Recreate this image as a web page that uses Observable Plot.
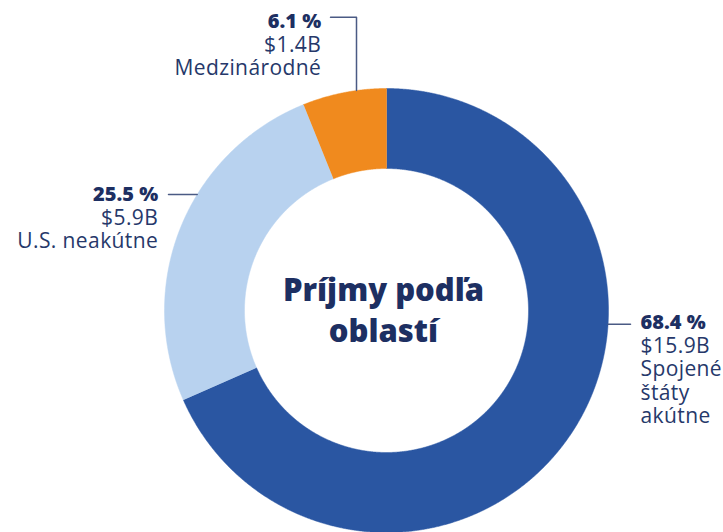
<!DOCTYPE html>
<html>
<head>
<meta charset="utf-8">
<script src="https://cdn.jsdelivr.net/npm/d3@7"></script>
<script src="https://cdn.jsdelivr.net/npm/@observablehq/plot@0.6"></script>
<style>
  html, body { margin: 0; padding: 0; background: #fff; }
  #chart { width: 723px; height: 532px; }
  #chart g[font-weight="400"] text { letter-spacing: 0.4px; }
</style>
</head>
<body>
<div id="chart"></div>
<script>
// ---- Data ----
const regions = ["Spojené štáty akútne", "U.S. neakútne", "Medzinárodné"];
const regionLabels = ["Spojené\nštáty\nakútne", "U.S. neakútne", "Medzinárodné"];
const shares = [68.4, 25.5, 6.1];          // percent
const revenue = [15.9, 5.9, 1.4];          // $B
const title = "Príjmy podľa\noblastí";

// ---- Styles / layout ----
const colors = ["#2a56a2", "#b8d2ef", "#f08a1e"];
const textColor = "#1d2f62";
const bodyColor = "#26386a";
const leaderColor = "#4a5a84";
const W = 723, H = 532;
const CX = 386, CY = 310, R = 222, RIN = 142;
const inner = RIN / R;
const ux = px => (px - CX) / R;
const uy = py => (CY - py) / R;
const regSize = 21, regStep = 23.5, pctGap = 24;

// label layout (pixels): anchor x, first baseline, text anchor, leader path
const labelLayout = [
  {tx: 640, b0: 328, anchor: "start", leader: {kind: "h", y: 323.7, to: 630}},
  {tx: 157.7, b0: 200, anchor: "end", leader: {kind: "h", y: 194, to: 168}},
  {tx: 320.7, b0: 27.3, anchor: "end", leader: {kind: "v", x: 356, top: 16.7, to: 330}}
];

// ---- Slices from data ----
const pie = d3.pie().sort(null).value(d => d)(shares);
const ringPts = [];
pie.forEach((p, i) => {
  const n = Math.max(8, Math.ceil((p.endAngle - p.startAngle) / 0.004));
  const outer = d3.range(n + 1).map(k => p.startAngle + (p.endAngle - p.startAngle) * k / n);
  outer.forEach(a => ringPts.push({region: regions[i], x: Math.sin(a), y: Math.cos(a)}));
  outer.slice().reverse().forEach(a => ringPts.push({region: regions[i], x: inner * Math.sin(a), y: inner * Math.cos(a)}));
});

// ---- Leader lines ----
const leaderPts = [];
labelLayout.forEach((L, i) => {
  const l = L.leader;
  if (l.kind === "h") {
    const yy = uy(l.y);
    const sx = Math.sign(ux(l.to)) * Math.sqrt(1 - yy * yy);
    leaderPts.push({id: i, x: sx, y: yy}, {id: i, x: ux(l.to), y: yy});
  } else {
    const xx = ux(l.x);
    const sy = Math.sqrt(1 - xx * xx);
    leaderPts.push({id: i, x: xx, y: sy}, {id: i, x: xx, y: uy(l.top)}, {id: i, x: ux(l.to), y: uy(l.top)});
  }
});

// ---- Labels: bold percent + multi-line body ----
const pctRows = regions.map((r, i) => ({
  anchor: labelLayout[i].anchor, text: `${shares[i]} %`,
  x: ux(labelLayout[i].tx), y: uy(labelLayout[i].b0)
}));
const bodyRows = regions.map((r, i) => {
  const lines = [`$${revenue[i]}B`, ...regionLabels[i].split("\n")];
  const last = labelLayout[i].b0 + pctGap + regStep * (lines.length - 1);
  return {anchor: labelLayout[i].anchor, text: lines.join("\n"), x: ux(labelLayout[i].tx), y: uy(last)};
});
const titleRow = [{text: title, x: ux(CX - 3), y: uy(300.7 + 41)}];

const font = "'Open Sans', 'DejaVu Sans', sans-serif";
const marks = [];
regions.forEach((r, i) => {
  marks.push(Plot.line(ringPts.filter(d => d.region === r), {
    x: "x", y: "y", fill: colors[i], stroke: colors[i], strokeWidth: 0.5, curve: "linear"
  }));
});
marks.push(Plot.line(leaderPts, {x: "x", y: "y", z: "id", stroke: leaderColor, strokeWidth: 1.5}));
["start", "end"].forEach(anchor => {
  marks.push(Plot.text(pctRows.filter(d => d.anchor === anchor), {
    x: "x", y: "y", text: "text", textAnchor: anchor, lineAnchor: "bottom",
    fill: textColor, fontSize: 20, fontWeight: 800, fontFamily: font
  }));
  marks.push(Plot.text(bodyRows.filter(d => d.anchor === anchor), {
    x: "x", y: "y", text: "text", textAnchor: anchor, lineAnchor: "bottom",
    lineHeight: regStep / regSize,
    fill: bodyColor, fontSize: regSize, fontWeight: 400, fontFamily: font
  }));
});
marks.push(Plot.text(titleRow, {
  x: "x", y: "y", text: "text", textAnchor: "middle", lineAnchor: "bottom",
  lineHeight: 41 / 31,
  fill: textColor, fontSize: 31, fontWeight: 800, fontFamily: font
}));

const chart = Plot.plot({
  width: W, height: H, margin: 0,
  x: {domain: [ux(0), ux(W)], axis: null},
  y: {domain: [uy(H), uy(0)], axis: null},
  style: {background: "#fff", overflow: "visible"},
  marks
});
document.getElementById("chart").appendChild(chart);
</script>
</body>
</html>
